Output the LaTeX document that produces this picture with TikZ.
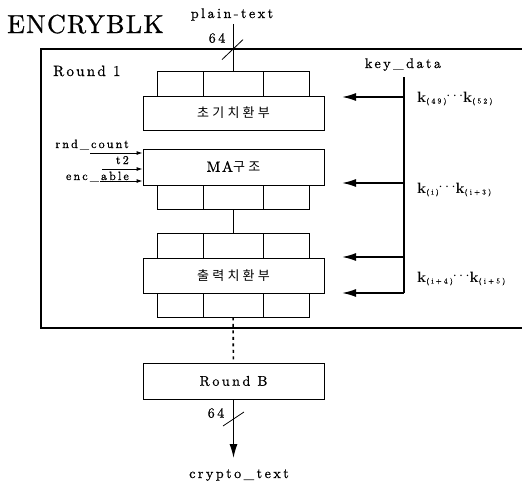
\documentclass[tikz,border=0pt]{standalone}
\usepackage{fontspec}
\setmainfont{lmroman10-regular}[Extension=.otf, BoldFont=lmroman10-bold, ItalicFont=lmroman10-italic, BoldItalicFont=lmroman10-bolditalic]
\newfontfamily\kr[LetterSpace=25]{Noto Sans CJK KR}
\usetikzlibrary{arrows.meta,calc}
\newcommand\kk[1]{{\fontsize{15}{15}\selectfont\bfseries k}\raisebox{-1.5pt}{\fontsize{7.5}{7.5}\selectfont\addfontfeatures{LetterSpace=30,FakeBold=0.6}#1}}
\newcommand\kdots{\raisebox{2.5pt}{\fontsize{14}{14}\selectfont$\cdots$}}
\begin{document}
\begin{tikzpicture}[x=1pt,y=-1pt,
  txt/.style={font=\fontsize{14}{14}\selectfont\addfontfeatures{LetterSpace=18,FakeBold=0.8}, inner sep=0pt},
  stxt/.style={font=\fontsize{12}{12}\selectfont\addfontfeatures{LetterSpace=18,FakeBold=0.8}, inner sep=0pt},
  krtxt/.style={font=\kr\fontsize{13}{13}\selectfont},
  cell/.style={draw, line width=0.8pt, inner sep=0pt, minimum width=46, minimum height=25},
  wcell/.style={cell, minimum width=60},
  mainbox/.style={draw, fill=white, line width=0.9pt, inner sep=0pt, minimum width=181, minimum height=35},
  karrow/.style={line width=1.6pt, -{Latex[length=14pt,width=8pt]}},
  inarrow/.style={line width=0.9pt, -{Latex[length=6pt,width=4pt]}},
  thinline/.style={line width=1pt}]
\useasboundingbox (0,0) rectangle (522,485);
\fill[white] (0,0) rectangle (522,485);

% title and outer round box
\node[anchor=base west, inner sep=0pt, font=\fontsize{26}{26}\selectfont\addfontfeatures{LetterSpace=5,FakeBold=0.8}] (title) at (7,33) {ENCRYBLK};
\draw[line width=1.5pt] (522,49) -- (41,49) -- (41,328) -- (522,328);
\node[txt, font=\fontsize{15}{15}\selectfont\addfontfeatures{LetterSpace=15,FakeBold=0.8}, anchor=base west] (r1) at (53,76) {Round 1};

% initial permutation block
\node[cell] (u1) at (180,83.5) {};
\node[wcell] (u2) at (233,83.5) {};
\node[cell] (u3) at (286,83.5) {};
\node[mainbox, minimum height=34, krtxt] (init) at (233.5,113) {초기치환부};

% MA block
\node[mainbox, minimum height=36] (ma) at (233.5,167) {{\fontsize{15}{15}\selectfont\addfontfeatures{LetterSpace=10,FakeBold=0.8}MA}{\kr\fontsize{13}{13}\selectfont 구조}};
\node[cell, minimum height=24] (m1) at (180,197) {};
\node[wcell, minimum height=24] (m2) at (233,197) {};
\node[cell, minimum height=24] (m3) at (286,197) {};

% output permutation block
\node[cell] (o1) at (180,245.5) {};
\node[wcell] (o2) at (233,245.5) {};
\node[cell] (o3) at (286,245.5) {};
\node[mainbox, krtxt] (outp) at (233.5,275.5) {출력치환부};
\node[cell, minimum height=24] (p1) at (180,305) {};
\node[wcell, minimum height=24] (p2) at (233,305) {};
\node[cell, minimum height=24] (p3) at (286,305) {};

% Round B
\node[mainbox, minimum height=36, txt] (rb) at (233.5,381) {Round B};

% plain-text input
\node[txt, anchor=base] (plain) at (232,18) {plain-text};
\draw[thinline, shorten <=3pt] (plain.south -| u2.north) -- (u2);
\draw[line width=0.8pt] ($(u2.north)+(-11,-11)$) -- ($(u2.north)+(10,-31)$);
\node[txt] (n64a) at (217,38) {64};

% internal connectors
\draw[thinline] (m2) -- (o2);
\draw[line width=1.6pt, dash pattern=on 3pt off 3.5pt] (p2) -- (rb);

% crypto-text output
\coordinate (cend) at (233.5,458);
\draw[line width=1.2pt, -{Latex[length=14pt,width=8pt]}] (rb) -- (cend);
\draw[line width=0.8pt] (223,426) -- (244,412);
\node[txt] (n64b) at (216,413) {64};
\node[txt, anchor=base] (crypto) at (239,478) {crypto\_text};

% key data
\node[txt, anchor=base] (kd) at (403,68) {key\_data};
\coordinate (kt) at (404,77);
\coordinate (kb) at (404,293);
\draw[line width=1.8pt] (kt) -- (kb);
\coordinate (k1) at (404,97);  \coordinate (t1) at (342,97);
\coordinate (k2) at (404,183); \coordinate (t2c) at (342,183);
\coordinate (k3) at (404,257); \coordinate (t3) at (342,257);
\coordinate (t4) at (342,293);
\draw[karrow] (k1) -- (t1);
\draw[karrow] (k2) -- (t2c);
\draw[karrow] (k3) -- (t3);
\draw[karrow] (kb) -- (t4);
\node[anchor=base west, inner sep=0pt] (kl1) at (417,102) {\kk{(49)}\kdots\kk{(52)}};
\node[anchor=base west, inner sep=0pt] (kl2) at (417,193) {\kk{(i)}\kdots\kk{(i+3)}};
\node[anchor=base west, inner sep=0pt] (kl3) at (417,282) {\kk{(i+4)}\kdots\kk{(i+5)}};

% MA side inputs
\node[stxt, anchor=base east] (rc) at (129,148) {rnd\_count};
\node[stxt, anchor=base east] (tt) at (129,164) {t2};
\node[stxt, anchor=base east] (ea) at (129,180) {enc\_able};
\coordinate (i1) at (90,153);
\coordinate (i2) at (102,169);
\coordinate (i3) at (100,181);
\draw[inarrow] (i1) -- (i1 -| ma.west);
\draw[inarrow] (i2) -- (i2 -| ma.west);
\draw[inarrow] (i3) -- (i3 -| ma.west);
\end{tikzpicture}
\end{document}
